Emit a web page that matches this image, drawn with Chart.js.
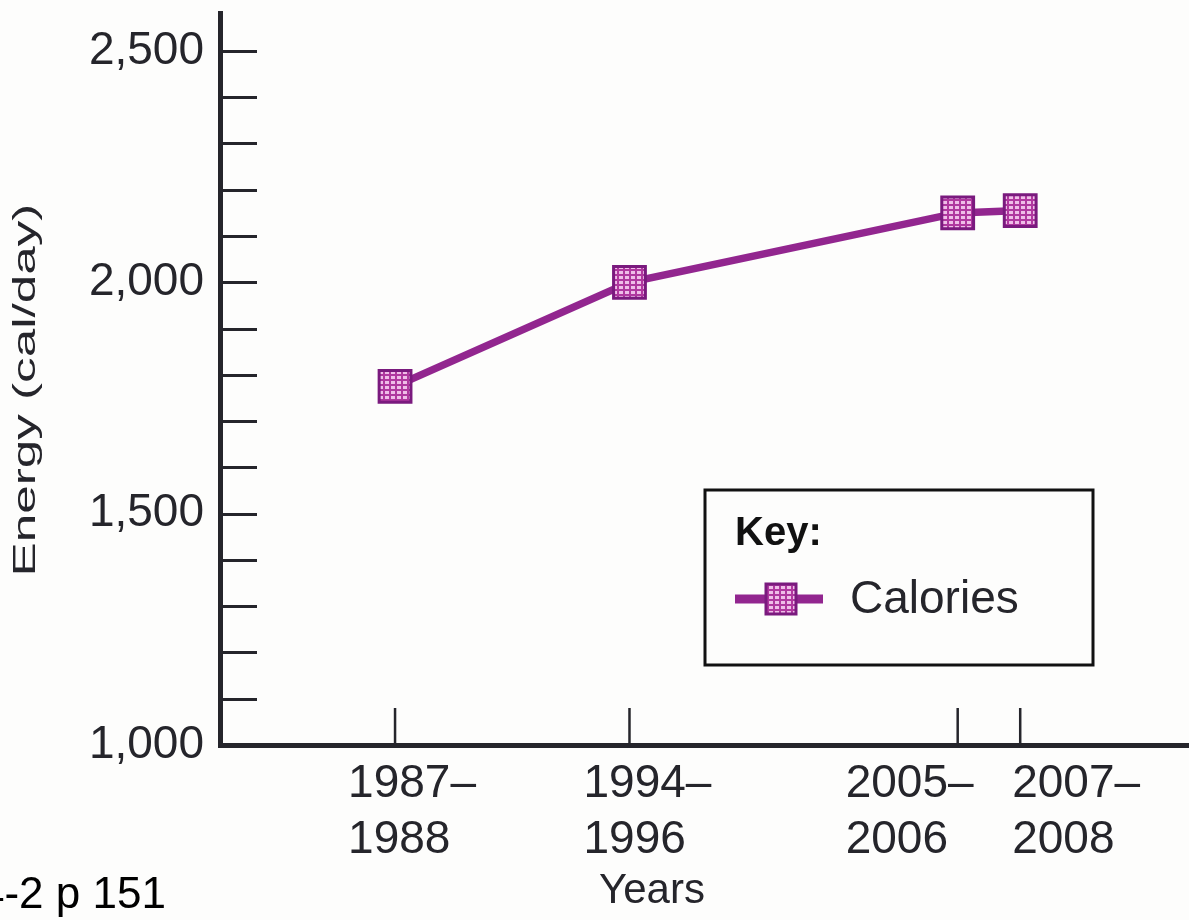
<!DOCTYPE html>
<html>
<head>
<meta charset="utf-8">
<script src="https://cdn.jsdelivr.net/npm/chart.js@4.4.1/dist/chart.umd.min.js"></script>
<style>
  html, body { margin: 0; padding: 0; background: #fdfdfc; overflow: hidden; }
  #wrap { position: relative; width: 1189px; height: 920px; }
  #c { position: absolute; left: 0; top: 0; }
  #note { position: absolute; left: -20px; top: 871px; font: 44px "Liberation Sans", Arial, sans-serif;
          line-height: 44px; color: #000; white-space: nowrap; }
</style>
</head>
<body>
<div id="wrap">
  <canvas id="c" width="1189" height="920"></canvas>
  <div id="note">4-2 p 151</div>
</div>
<script>
// Average daily energy intake across survey periods
const periodLabels = [["1987–", "1988"], ["1994–", "1996"], ["2005–", "2006"], ["2007–", "2008"]];
const periodMidYears = [1987.5, 1995, 2005.5, 2007.5];
const calories = [1775, 2000, 2150, 2155];
const energyLabelValues = [1000, 1500, 2000, 2500];
const seriesName = "Calories";
const keyTitle = "Key:";
const yTitle = "Energy (cal/day)";
const xTitle = "Years";

const FONT = '"Liberation Sans", Arial, Helvetica, sans-serif';
const INK = '#25252b';
const LINE_PURPLE = '#92268f';
const MARK_EDGE = '#7a1a7e';

// horizontal nudges for the two-line period labels (left edge relative to the tick)
const labelShift = [-47, -46, -112, -8];

const canvas = document.getElementById('c');
const ctx0 = canvas.getContext('2d');

// small brick-like mesh used to fill the square markers
function meshPattern() {
  const t = document.createElement('canvas');
  t.width = 6; t.height = 5;
  const g = t.getContext('2d');
  g.fillStyle = '#b0389f';
  g.fillRect(0, 0, 6, 5);
  g.fillStyle = '#efbde8';
  g.fillRect(1, 1, 4, 3);
  return ctx0.createPattern(t, 'repeat');
}
const mesh = meshPattern();

// keep the plotting area exactly where the layout puts it
function noScalePadding(s) {
  s.paddingTop = 0; s.paddingBottom = 0; s.paddingLeft = 0; s.paddingRight = 0;
}

// tick marks that point into the plotting area
const innerTicks = {
  id: 'innerTicks',
  beforeDatasetsDraw(chart) {
    const { ctx, chartArea, scales } = chart;
    ctx.save();
    ctx.strokeStyle = INK;
    ctx.lineCap = 'butt';
    ctx.lineWidth = 3;
    scales.y.ticks.forEach(t => {
      const y = Math.round(scales.y.getPixelForValue(t.value)) + 0.5;
      ctx.beginPath();
      ctx.moveTo(chartArea.left, y);
      ctx.lineTo(chartArea.left + 37, y);
      ctx.stroke();
    });
    ctx.lineWidth = 2.5;
    scales.x.ticks.forEach(t => {
      const x = scales.x.getPixelForValue(t.value);
      ctx.beginPath();
      ctx.moveTo(x, chartArea.bottom);
      ctx.lineTo(x, chartArea.bottom - 37);
      ctx.stroke();
    });
    ctx.restore();
  }
};

// two-line period labels under the x axis, plus the axis name
const periodTickLabels = {
  id: 'periodTickLabels',
  afterDraw(chart) {
    const { ctx, chartArea, scales } = chart;
    ctx.save();
    ctx.font = '46px ' + FONT;
    ctx.fillStyle = INK;
    ctx.textAlign = 'left';
    ctx.textBaseline = 'alphabetic';
    scales.x.ticks.forEach((t, i) => {
      const x = scales.x.getPixelForValue(t.value) + labelShift[i];
      const lines = periodLabels[i];
      ctx.fillText(lines[0], x, chartArea.bottom + 52);
      ctx.fillText(lines[1], x, chartArea.bottom + 108);
    });
    ctx.font = '42px ' + FONT;
    ctx.textAlign = 'center';
    ctx.fillText(xTitle, 652, chartArea.bottom + 158);
    ctx.restore();
  }
};

// vertical axis title, set in a wide face
const energyTitle = {
  id: 'energyTitle',
  afterDraw(chart) {
    const { ctx } = chart;
    ctx.save();
    ctx.translate(35, 390);
    ctx.rotate(-Math.PI / 2);
    ctx.scale(1.6, 1);
    ctx.font = '32px ' + FONT;
    ctx.fillStyle = INK;
    ctx.textAlign = 'center';
    ctx.textBaseline = 'alphabetic';
    ctx.fillText(yTitle, 0, 0);
    ctx.restore();
  }
};

// boxed key in the lower right of the plot
const keyBox = {
  id: 'keyBox',
  afterDatasetsDraw(chart) {
    const { ctx } = chart;
    const ds = chart.data.datasets[0];
    const box = { left: 705, top: 490, right: 1093, bottom: 665 };
    ctx.save();
    ctx.strokeStyle = '#111';
    ctx.lineWidth = 3;
    ctx.strokeRect(box.left, box.top, box.right - box.left, box.bottom - box.top);

    ctx.fillStyle = '#111';
    ctx.font = 'bold 40px ' + FONT;
    ctx.textBaseline = 'alphabetic';
    ctx.fillText(keyTitle, box.left + 30, box.top + 55);

    const y = box.top + 109;
    ctx.strokeStyle = ds.borderColor;
    ctx.lineWidth = 9;
    ctx.beginPath();
    ctx.moveTo(box.left + 30, y);
    ctx.lineTo(box.left + 118, y);
    ctx.stroke();
    const cx = box.left + 76, s = 30;
    ctx.fillStyle = ds.pointBackgroundColor;
    ctx.fillRect(cx - s / 2, y - s / 2, s, s);
    ctx.strokeStyle = ds.pointBorderColor;
    ctx.lineWidth = ds.pointBorderWidth;
    ctx.strokeRect(cx - s / 2, y - s / 2, s, s);

    ctx.fillStyle = INK;
    ctx.font = '46px ' + FONT;
    ctx.fillText(ds.label, box.left + 145, y + 14);
    ctx.restore();
  }
};

new Chart(canvas, {
  type: 'line',
  data: {
    datasets: [{
      label: seriesName,
      data: periodMidYears.map((x, i) => ({ x, y: calories[i] })),
      borderColor: LINE_PURPLE,
      borderWidth: 7.5,
      pointStyle: 'rect',
      pointRadius: 22.5,
      pointBackgroundColor: mesh,
      pointBorderColor: MARK_EDGE,
      pointBorderWidth: 3,
      tension: 0,
      clip: false
    }]
  },
  options: {
    responsive: false,
    animation: false,
    devicePixelRatio: 1,
    layout: { autoPadding: false, padding: { top: 13, right: 0, left: 0, bottom: 0 } },
    plugins: { legend: { display: false }, tooltip: { enabled: false } },
    scales: {
      x: {
        type: 'linear',
        min: 1981.9,
        max: 2012.9,
        afterBuildTicks: s => { s.ticks = periodMidYears.map(v => ({ value: v })); },
        afterFit: s => { s.height = 175; noScalePadding(s); },
        grid: { drawOnChartArea: false, drawTicks: false },
        border: { color: INK, width: 5 },
        ticks: { display: false }
      },
      y: {
        min: 1000,
        max: 2582,
        afterFit: s => { s.width = 220; noScalePadding(s); },
        grid: { drawOnChartArea: false, drawTicks: false },
        border: { color: INK, width: 5 },
        ticks: {
          stepSize: 100, includeBounds: false, autoSkip: false, padding: 16,
          color: INK, font: { family: FONT, size: 46 },
          callback: v => energyLabelValues.includes(v) ? v.toLocaleString('en-US') : ''
        }
      }
    }
  },
  plugins: [innerTicks, periodTickLabels, energyTitle, keyBox]
});
</script>
</body>
</html>
